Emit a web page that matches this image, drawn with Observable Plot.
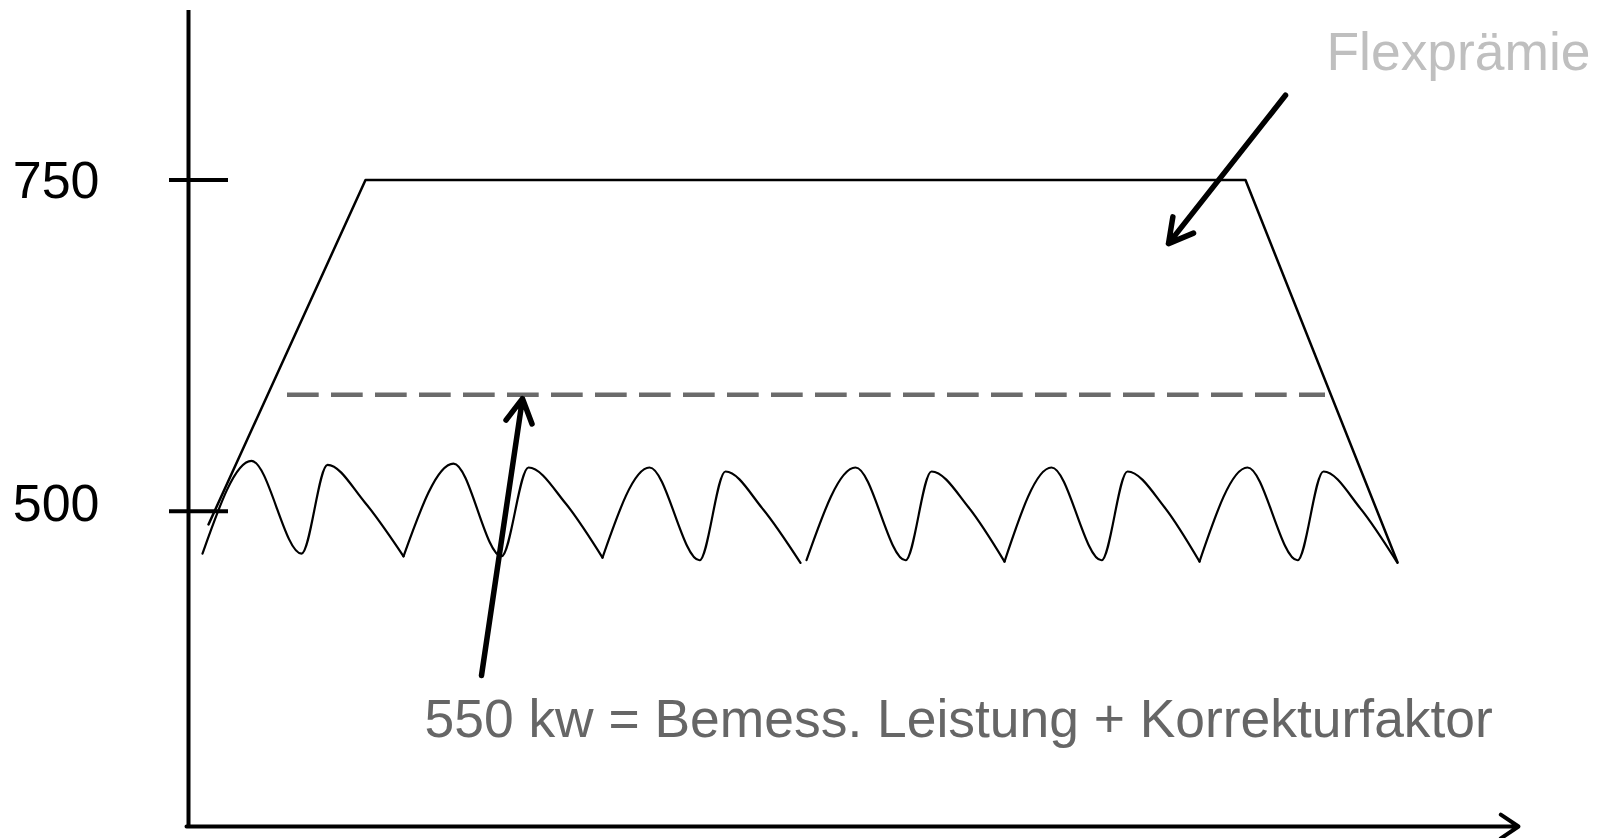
<!DOCTYPE html>
<html>
<head>
<meta charset="utf-8">
<script src="https://cdn.jsdelivr.net/npm/d3@7"></script>
<script src="https://cdn.jsdelivr.net/npm/@observablehq/plot@0.6"></script>
<style>
  html, body { margin: 0; padding: 0; background: #fff; overflow: hidden; }
</style>
</head>
<body>
<div id="chart"></div>
<script>
// ---- data (x: time units, y: kW) ----
const yTicks = [500, 750];
const yDomain = [262, 878];
const xDomain = [0, 1332];

// Flexprämie envelope (trapezoid)
const envX = [20, 177, 1057, 1209];
const envY = [490, 750, 750, 461.5];

// actual power curve, in segments
const waveSeg = [0,0,0,0,0,0, 1,1,1,1,1,1, 2,2,2,2,2,2, 3,3,3,3,3,3, 4,4,4,4,4,4, 5,5,5,5,5,5];
const waveX = [14, 63, 113, 139, 176, 215,
               215, 265, 313, 340, 377, 414,
               414, 461, 511, 537, 574, 612,
               618, 667, 717, 743, 780, 816,
               816, 863, 913, 939, 976, 1011,
               1011, 1059, 1109, 1135, 1172, 1209];
const waveY = [468, 538, 468, 535, 507, 466,
               466, 536, 466, 533, 506, 465,
               465, 533, 463, 530, 502, 461,
               463, 533, 463, 530, 503, 462,
               462, 533, 463, 530, 503, 462,
               462, 533, 463, 530, 502, 461];

// dashed reference level
const refLevel = [588];
const refX = [99, 1137];

// annotations
const arrowX1 = [293, 1097];
const arrowY1 = [376, 814];
const arrowX2 = [334, 980];
const arrowY2 = [585, 702];

const labelText = ["550 kw = Bemess. Leistung + Korrekturfaktor", "Flexprämie"];
const labelX = [236, 1138];
const labelY = [329.5, 833];
const labelColor = ["#666666", "#bfbfbf"];

// ---- build tables ----
const env = envX.map((x, i) => ({x, y: envY[i]}));
const wave = waveX.map((x, i) => ({x, y: waveY[i], s: waveSeg[i]}));
const arrows = arrowX1.map((x1, i) => ({x1, y1: arrowY1[i], x2: arrowX2[i], y2: arrowY2[i]}));
const labels = labelText.map((t, i) => ({t, x: labelX[i], y: labelY[i], c: labelColor[i]}));

const chart = Plot.plot({
  width: 1597,
  height: 838,
  marginLeft: 188,
  marginRight: 77,
  marginTop: 10,
  marginBottom: 12,
  style: {fontFamily: "'Liberation Sans', Arial, sans-serif", background: "#fff"},
  x: {domain: xDomain, axis: null},
  y: {domain: yDomain, axis: null},
  marks: [
    // y axis line
    Plot.ruleX([xDomain[0]], {y1: yDomain[0], y2: yDomain[1], stroke: "#000", strokeWidth: 4}),
    // y ticks crossing the axis
    Plot.ruleY(yTicks, {x1: -19, x2: 40, stroke: "#000", strokeWidth: 4}),
    Plot.axisY({ticks: [750], tickSize: 0, tickPadding: 89, fontSize: 52, dy: 1.5, fill: "#000"}),
    Plot.axisY({ticks: [500], tickSize: 0, tickPadding: 89, fontSize: 52, dy: -6.5, fill: "#000"}),
    // x axis arrow
    Plot.arrow([0], {x1: xDomain[0] - 2, y1: yDomain[0], x2: 1330, y2: yDomain[0], stroke: "#000", strokeWidth: 4, headLength: 8, headAngle: 68}),
    // envelope
    Plot.line(env, {x: "x", y: "y", stroke: "#000", strokeWidth: 2.5}),
    // dashed level
    Plot.ruleY(refLevel, {x1: refX[0], x2: refX[1], stroke: "#6b6b6b", strokeWidth: 4.5, strokeDasharray: "31.7,12.3"}),
    // power curve
    Plot.line(wave, {x: "x", y: "y", z: "s", curve: "monotone-x", stroke: "#000", strokeWidth: 2.2}),
    // annotation arrows
    Plot.arrow(arrows, {x1: "x1", y1: "y1", x2: "x2", y2: "y2", stroke: "#000", strokeWidth: 5.5, headLength: 7.4, headAngle: 58}),
    // labels
    Plot.text(labels, {x: "x", y: "y", text: "t", fill: "c", fontSize: 53.4, textAnchor: "start", lineAnchor: "bottom"})
  ]
});
document.getElementById("chart").appendChild(chart);
</script>
</body>
</html>
